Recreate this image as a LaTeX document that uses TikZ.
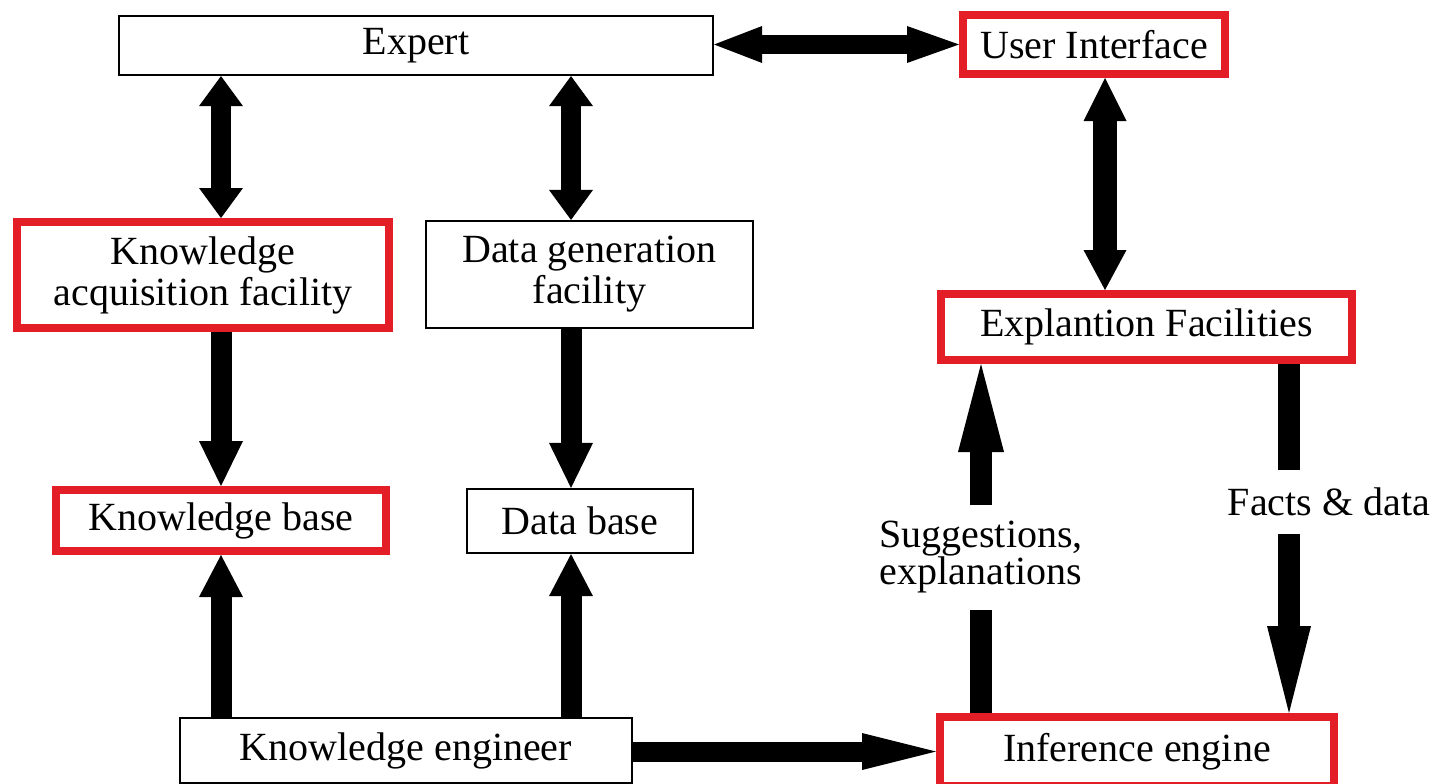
\documentclass[tikz,border=0pt]{standalone}
\usepackage{fontspec}
\setmainfont{Liberation Serif}
\usetikzlibrary{arrows.meta}
\definecolor{boxred}{RGB}{228,30,38}
\begin{document}
\begin{tikzpicture}[x=1pt,y=-1pt,
  txt/.style={font=\fontsize{40}{41}\selectfont, align=center, inner sep=0pt},
  plainbox/.style={txt, rectangle, draw=black, line width=2.2pt},
  redbox/.style={txt, rectangle, draw=boxred, line width=8pt},
  shaft/.style={draw=black, line width=#1},
  hd/.style n args={2}{-{Triangle[length=#1pt,width=#2pt,line width=0pt]}},
  dh/.style n args={4}{{Triangle[length=#1pt,width=#2pt,line width=0pt]}-{Triangle[length=#3pt,width=#4pt,line width=0pt]}}
]
\useasboundingbox (0,0) rectangle (1440,784);
\fill[white] (0,0) rectangle (1440,784);

% boxes
\node[plainbox, minimum width=594pt, minimum height=59pt] (expert) at (416,45.5) {Expert};
\node[redbox, minimum width=262pt, minimum height=59pt] (ui) at (1094,44.5) {User Interface};
\node[redbox, minimum width=372pt, minimum height=106pt] (kaf) at (203,275) {Knowledge\\acquisition facility};
\node[plainbox, minimum width=327pt, minimum height=107pt] (dgf) at (589.5,274.5) {Data generation\\facility};
\node[redbox, minimum width=411pt, minimum height=66pt] (ef) at (1146.5,327) {Explantion Facilities};
\node[redbox, minimum width=330pt, minimum height=61pt] (kb) at (221,520.5) {Knowledge base};
\node[plainbox, minimum width=226pt, minimum height=64pt] (db) at (580,521) {Data base};
\node[plainbox, minimum width=452pt, minimum height=65pt] (ke) at (406,750.5) {Knowledge engineer};
\node[redbox, minimum width=394pt, minimum height=69pt] (ie) at (1137,751.5) {Inference engine};

% labels
\node[txt, font=\fontsize{40}{37}\selectfont, minimum height=105pt] (lsug) at (981,557.5) {Suggestions,\\explanations};
\node[txt, anchor=base] (lfd) at (1329,515) {Facts \& data};

% column coordinates
\coordinate (cl) at (221,0);
\coordinate (cm) at (571,0);
\coordinate (cu) at (1105,0);
\coordinate (fdtop) at (1289,470);
\coordinate (fdbot) at (1289,534);

% arrows
\draw[shaft=20pt, dh={30}{44}{30}{44}] (expert.south -| cl) -- (kaf.north -| cl);
\draw[shaft=20pt, dh={30}{44}{30}{44}] (expert.south -| cm) -- (dgf.north -| cm);
\draw[shaft=21pt, hd={45}{44}] (kaf.south -| cl) -- (kb.north -| cl);
\draw[shaft=21pt, hd={45}{44}] (dgf.south -| cm) -- (db.north -| cm);
\draw[shaft=21pt, hd={42}{44}] (ke.north -| cl) -- (kb.south -| cl);
\draw[shaft=21pt, hd={42}{44}] (ke.north -| cm) -- (db.south -| cm);
\draw[shaft=20pt, hd={74}{37}] (ke.east |- ie.west) -- (ie.west);
\draw[shaft=19pt, dh={48}{37}{52}{37}] (expert.east |- ui.west) -- (ui.west);
\draw[shaft=24pt, dh={43}{43}{40}{43}] (ui.south -| cu) -- (ef.north -| cu);
\draw[shaft=22pt] (ie.north -| lsug) -- (lsug.south);
\draw[shaft=22pt, hd={88}{46}] (lsug.north) -- (ef.south -| lsug);
\draw[shaft=22pt] (ef.south -| fdtop) -- (fdtop);
\draw[shaft=22pt, hd={87}{44}] (fdbot) -- (ie.north -| fdbot);
\end{tikzpicture}
\end{document}
